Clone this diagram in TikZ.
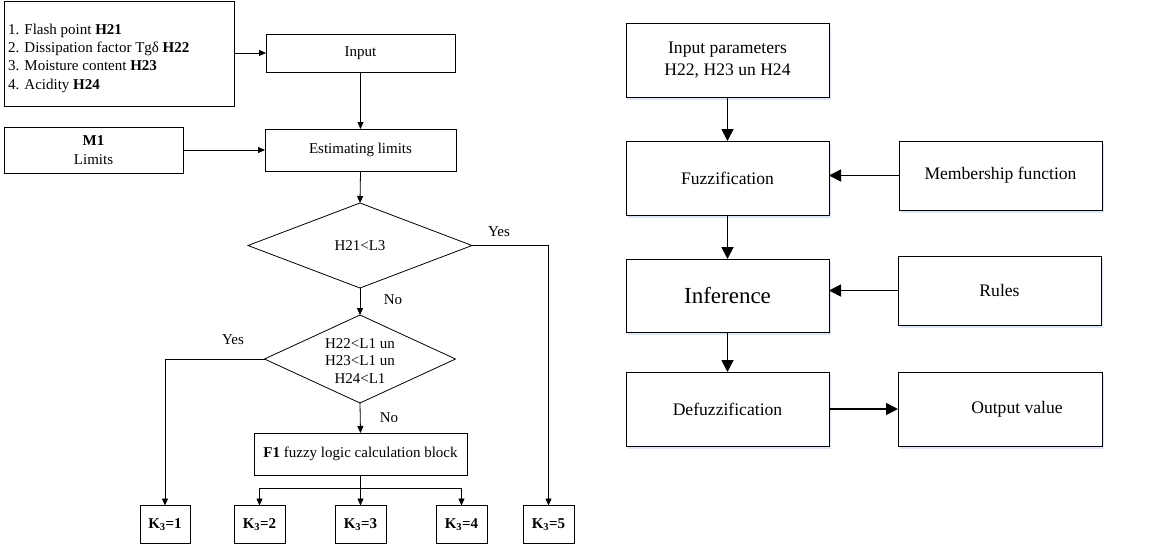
\documentclass[tikz,border=0pt]{standalone}
\usepackage{fontspec}
\setmainfont{Liberation Serif}
\usetikzlibrary{arrows.meta,shapes.geometric,shadows}
\definecolor{shadowblue}{RGB}{205,220,240}
\tikzset{
  lbox/.style={draw, line width=0.8pt, inner sep=0pt, outer sep=0pt, font=\fontsize{15}{18.3}\selectfont, align=center},
  ldiam/.style={draw, diamond, line width=0.8pt, inner sep=0pt, outer sep=0pt},
  ltext/.style={font=\fontsize{15}{17.5}\selectfont, align=center, inner sep=0pt},
  larr/.style={line width=0.8pt, -{Triangle[length=7pt,width=6pt]}},
  lline/.style={line width=0.8pt},
  rbox/.style={draw, line width=1pt, inner sep=0pt, outer sep=0pt, fill=white, font=\fontsize{17.6}{22.5}\selectfont, align=center,
     drop shadow={shadow xshift=1.5pt, shadow yshift=-2.5pt, fill=shadowblue, opacity=0.7}},
  rarr/.style={line width=1.8pt, -{Triangle[length=12pt,width=12pt]}},
}
\begin{document}
\begin{tikzpicture}[x=1pt,y=-1pt]
\useasboundingbox (0,0) rectangle (1154,544);
% ---------- left flowchart ----------
\node[lbox, minimum width=230pt, minimum height=105pt] (list) at (119,53.5) {};
\node[anchor=west, inner sep=0pt, align=left, font=\fontsize{15}{18.3}\selectfont] (listtext) at (8,58)
  {1. Flash point \textbf{H21}\\2. Dissipation factor Tgδ \textbf{H22}\\3. Moisture content \textbf{H23}\\4. Acidity \textbf{H24}};
\node[lbox, minimum width=189pt, minimum height=38pt] (input) at (360.5,53) {Input};
\node[lbox, minimum width=179pt, minimum height=46pt] (m1) at (93.5,150) {\textbf{M1}\\Limits};
\node[lbox, minimum width=191pt, minimum height=42pt] (est) at (360.5,150) {Estimating limits};
\node[ldiam, minimum width=224pt, minimum height=85pt] (d1) at (360,245.5) {};
\node[ltext] (d1t) at (d1) {H21<L3};
\node[ldiam, minimum width=191pt, minimum height=88pt] (d2) at (360,359) {};
\node[ltext] (d2t) at (360,361) {H22<L1 un\\H23<L1 un\\H24<L1};
\node[lbox, minimum width=213pt, minimum height=42pt] (f1) at (360.5,454) {\textbf{F1} fuzzy logic calculation block};
\node[lbox, minimum width=50pt, minimum height=38pt] (k1) at (165,524.5) {\textbf{K\textsubscript{3}=1}};
\node[lbox, minimum width=51pt, minimum height=38pt] (k2) at (259.5,524.5) {\textbf{K\textsubscript{3}=2}};
\node[lbox, minimum width=51pt, minimum height=38pt] (k3) at (360.5,524.5) {\textbf{K\textsubscript{3}=3}};
\node[lbox, minimum width=51pt, minimum height=38pt] (k4) at (461.5,524.5) {\textbf{K\textsubscript{3}=4}};
\node[lbox, minimum width=51pt, minimum height=38pt] (k5) at (548.5,524.5) {\textbf{K\textsubscript{3}=5}};
\node[ltext] (yes1) at (499,232) {Yes};
\node[ltext] (no1) at (393,300) {No};
\node[ltext] (yes2) at (233,340) {Yes};
\node[ltext] (no2) at (389,418) {No};
\coordinate (split) at (360.5,488);

\draw[larr] (list.east |- input.west) -- (input.west);
\draw[larr] (input.south) -- (est.north);
\draw[larr] (m1.east) -- (est.west);
\draw[larr] (est.south) -- (d1.north);
\draw[larr] (d1.east) -| (k5.north);
\draw[larr] (d1.south) -- (d2.north);
\draw[larr] (d2.west) -| (k1.north);
\draw[larr] (d2.south) -- (f1.north);
\draw[lline] (f1.south) -- (split);
\draw[larr] (split) -| (k2.north);
\draw[larr] (split) -| (k4.north);
\draw[larr] (split) -- (k3.north);
% ---------- right flowchart ----------
\node[rbox, minimum width=203pt, minimum height=74pt] (ip) at (727.5,60) {Input parameters\\H22, H23 un H24};
\node[rbox, minimum width=203pt, minimum height=74pt] (fz) at (727.5,178) {Fuzzification};
\node[rbox, minimum width=203pt, minimum height=69pt] (mf) at (1000.5,175.5) {Membership function};
\node[rbox, minimum width=203pt, minimum height=73pt, font=\fontsize{23}{26}\selectfont] (inf) at (727.5,295.5) {Inference};
\node[rbox, minimum width=203pt, minimum height=69pt] (rules) at (999.5,290.5) {Rules};
\node[rbox, minimum width=203pt, minimum height=74pt] (dfz) at (727.5,409) {Defuzzification};
\node[rbox, minimum width=204pt, minimum height=74pt] (out) at (1000,409) {\hspace*{34pt}Output value};

\draw[rarr] (ip.south) -- (fz.north);
\draw[rarr] (fz.south) -- (inf.north);
\draw[rarr] (inf.south) -- (dfz.north);
\draw[rarr] (mf.west) -- (fz.east |- mf.west);
\draw[rarr] (rules.west) -- (inf.east |- rules.west);
\draw[rarr] (dfz.east) -- (out.west);
\end{tikzpicture}
\end{document}
